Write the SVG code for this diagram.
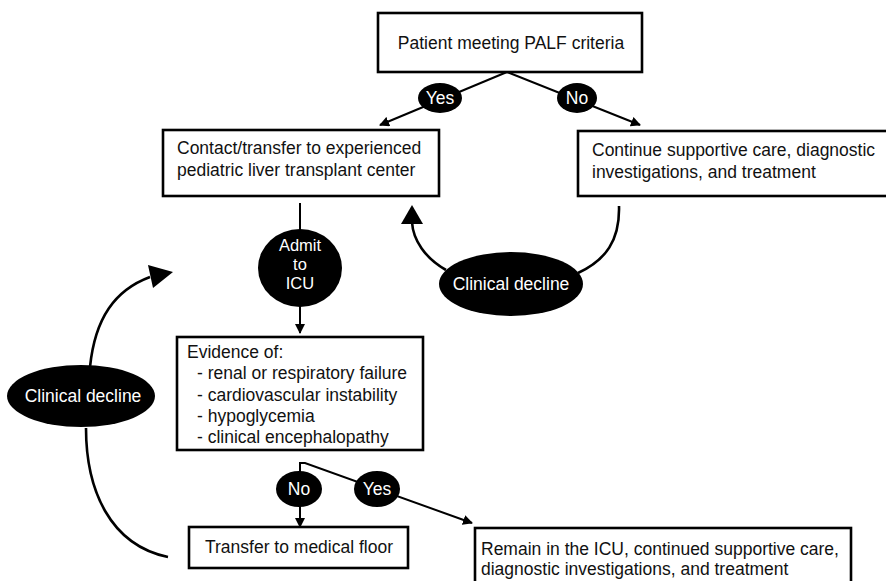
<svg xmlns="http://www.w3.org/2000/svg" width="886" height="581" viewBox="0 0 886 581">
<style>
.box{fill:#fff;stroke:#000;stroke-width:2.6}
.blob{fill:#000}
.t{font-family:"Liberation Sans",Arial,sans-serif;font-size:17.5px;fill:#111}
.w{font-family:"Liberation Sans",Arial,sans-serif;font-size:17.5px;fill:#fff;text-anchor:middle}
.s{font-size:16.5px}
.c{text-anchor:middle}
.ln{fill:none;stroke:#000;stroke-width:2}
.cv{fill:none;stroke:#000;stroke-width:2.6}
</style>
<defs>
<marker id="ah" markerWidth="10" markerHeight="10" refX="9" refY="5" orient="auto" markerUnits="userSpaceOnUse">
<path d="M0,0 L10,5 L0,10 Z" fill="#000"/>
</marker>
</defs>
<rect width="886" height="581" fill="#fff"/>
<g id="connectors">
<path class="ln" d="M507,72 L380,125" marker-end="url(#ah)"/>
<path class="ln" d="M507,72 L640,125" marker-end="url(#ah)"/>
<path class="ln" d="M300,203 L300,333" marker-end="url(#ah)"/>
<path class="ln" d="M301,463 L300,463 L300,527" marker-end="url(#ah)"/>
<path class="ln" d="M300,463 L305,463 L472,523" marker-end="url(#ah)"/>
<path class="cv" d="M619,206 C620,240 606,260 578,273"/>
<path class="cv" d="M446,270 C425,258 413,240 412,222"/>
<path d="M412,205 L401,224 L423,224 Z" fill="#000"/>
<path class="cv" d="M90,367 C95,318 115,290 150,277"/>
<path d="M173,272 L148,265 L153,288 Z" fill="#000"/>
<path class="cv" d="M86,428 C86,490 110,545 168,557"/>
</g>
<g id="n-palf">
<rect class="box" x="378" y="13" width="264" height="59"/>
<text class="t c" x="511" y="49">Patient meeting PALF criteria</text>
</g>
<g id="l-yes1">
<ellipse class="blob" cx="440" cy="98" rx="22" ry="15"/>
<text class="w" x="440" y="104">Yes</text>
</g>
<g id="l-no1">
<ellipse class="blob" cx="577" cy="98" rx="20" ry="15"/>
<text class="w" x="577" y="104">No</text>
</g>
<g id="n-contact">
<rect class="box" x="163" y="130" width="276" height="66"/>
<text class="t" x="177" y="154">Contact/transfer to experienced</text>
<text class="t" x="177" y="176">pediatric liver transplant center</text>
</g>
<g id="n-continue">
<rect class="box" x="578" y="131" width="312" height="65"/>
<text class="t" x="592" y="156">Continue supportive care, diagnostic</text>
<text class="t" x="592" y="178">investigations, and treatment</text>
</g>
<g id="n-admit">
<ellipse class="blob" cx="300" cy="268" rx="42" ry="39"/>
<text class="w s" x="300" y="251">Admit</text>
<text class="w s" x="300" y="270">to</text>
<text class="w s" x="300" y="289">ICU</text>
</g>
<g id="n-decline-right">
<ellipse class="blob" cx="511" cy="284" rx="72" ry="32"/>
<text class="w" x="511" y="290">Clinical decline</text>
</g>
<g id="n-evidence">
<rect class="box" x="177" y="337" width="246" height="113"/>
<text class="t" x="187" y="358">Evidence of:</text>
<text class="t" x="197" y="379">- renal or respiratory failure</text>
<text class="t" x="197" y="401">- cardiovascular instability</text>
<text class="t" x="197" y="422">- hypoglycemia</text>
<text class="t" x="197" y="443">- clinical encephalopathy</text>
</g>
<g id="n-decline-left">
<ellipse class="blob" cx="81" cy="396" rx="74" ry="31"/>
<text class="w" x="83" y="402">Clinical decline</text>
</g>
<g id="l-no2">
<ellipse class="blob" cx="299" cy="489" rx="23" ry="18"/>
<text class="w" x="299" y="495">No</text>
</g>
<g id="l-yes2">
<ellipse class="blob" cx="377" cy="489" rx="23" ry="18"/>
<text class="w" x="377" y="495">Yes</text>
</g>
<g id="n-floor">
<rect class="box" x="189" y="527" width="219" height="41"/>
<text class="t c" x="299" y="553">Transfer to medical floor</text>
</g>
<g id="n-remain">
<rect class="box" x="475" y="528" width="376" height="60"/>
<text class="t" x="481" y="555">Remain in the ICU, continued supportive care,</text>
<text class="t" x="481" y="575">diagnostic investigations, and treatment</text>
</g>
</svg>
